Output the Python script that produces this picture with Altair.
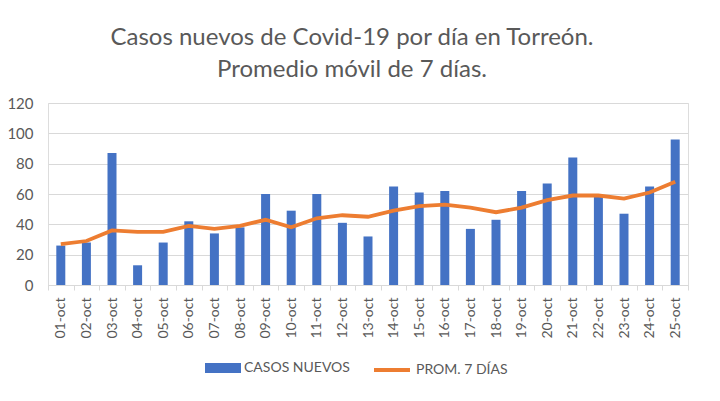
import altair as alt
import pandas as pd

fechas = ["01-oct", "02-oct", "03-oct", "04-oct", "05-oct", "06-oct", "07-oct", "08-oct",
          "09-oct", "10-oct", "11-oct", "12-oct", "13-oct", "14-oct", "15-oct", "16-oct",
          "17-oct", "18-oct", "19-oct", "20-oct", "21-oct", "22-oct", "23-oct", "24-oct", "25-oct"]
casos = [26, 28, 87, 13, 28, 42, 34, 38, 60, 49, 60, 41, 32, 65, 61, 62, 37, 43, 62, 67, 84, 59, 47, 65, 96]
promedio = [27, 29, 36, 35, 35, 39, 37, 39, 43, 38, 44, 46, 45, 49, 52, 53, 51, 48, 51, 56, 59, 59, 57, 61, 68]
y_ticks = [0, 20, 40, 60, 80, 100, 120]

df = pd.DataFrame({"fecha": fechas, "casos": casos, "prom": promedio,
                   "s1": "CASOS NUEVOS", "s2": "PROM. 7 DÍAS"})

FONT = "Lato"
GRAY = "#595959"

x = alt.X("fecha:N", sort=fechas, title=None,
          scale=alt.Scale(paddingInner=0, paddingOuter=0),
          axis=alt.Axis(labelAngle=-90, labelFont=FONT, labelFontSize=14, labelColor=GRAY,
                        domainColor="#d9d9d9", tickColor="#d9d9d9", tickSize=5, tickBand="extent",
                        labelPadding=7, grid=False, labelOverlap=False))

y_axis = alt.Axis(values=y_ticks, tickCount=7, labelFont=FONT, labelFontSize=15,
                  labelColor=GRAY, domain=False, ticks=False, gridColor="#d9d9d9",
                  labelPadding=15, labelOverlap=False)

bars = alt.Chart(df).mark_bar(size=9).encode(
    x=x,
    y=alt.Y("casos:Q", title=None,
            scale=alt.Scale(domain=[0, 120], nice=False),
            axis=y_axis),
    color=alt.Color("s1:N", title=None,
                    scale=alt.Scale(domain=["CASOS NUEVOS"], range=["#4472C4"]),
                    legend=alt.Legend(orient="none", legendX=157, legendY=247,
                                      symbolType="M-1,-0.28H1V0.28H-1Z", symbolSize=1296,
                                      symbolStrokeWidth=0, labelFont=FONT, labelFontSize=14,
                                      labelColor=GRAY, padding=0, labelOffset=3)),
)

line = alt.Chart(df).mark_line(strokeWidth=3.8, color="#ED7D31").encode(
    x=alt.X("fecha:N", sort=fechas),
    y=alt.Y("prom:Q", title=None, axis=y_axis),
    stroke=alt.Stroke("s2:N", title=None,
                      scale=alt.Scale(domain=["PROM. 7 DÍAS"], range=["#ED7D31"]),
                      legend=alt.Legend(orient="none", legendX=324, legendY=247,
                                        symbolType="stroke", symbolSize=1296,
                                        symbolStrokeWidth=3.8, labelFont=FONT, labelFontSize=14,
                                        labelColor=GRAY, padding=0, labelOffset=4)),
)

chart = alt.layer(bars, line).properties(
    width=640, height=182,
    title=alt.Title(["Casos nuevos de Covid-19 por día en Torreón.", "Promedio móvil de 7 días."],
                    font=FONT, fontSize=24, fontWeight="normal", color=GRAY,
                    anchor="middle", offset=14, lineHeight=32, dx=-16),
    autosize=alt.AutoSizeParams(type="none"),
    padding={"left": 40, "top": 95, "right": 24, "bottom": 100},
).configure_view(stroke=None).configure(background="white")

chart.save("out.html", embed_options={"renderer": "svg", "actions": False})
